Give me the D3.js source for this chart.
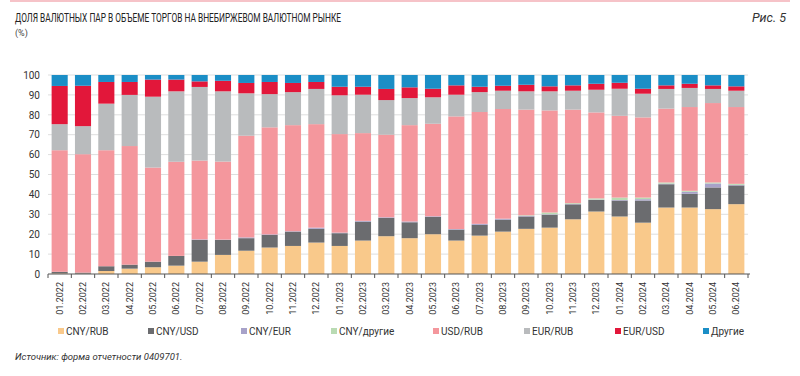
<!DOCTYPE html>
<html><head><meta charset="utf-8">
<script src="https://cdn.jsdelivr.net/npm/d3@7/dist/d3.min.js"></script>
<style>
body{margin:0;background:#fff;}
svg{display:block;}
.cond{font-family:"Liberation Sans Narrow","Roboto","DejaVu Sans Condensed",sans-serif;}
</style></head>
<body><svg id="chart" width="800" height="376"></svg>
<script>
const categories = ["01.2022","02.2022","03.2022","04.2022","05.2022","06.2022","07.2022","08.2022","09.2022","10.2022","11.2022","12.2022",
"01.2023","02.2023","03.2023","04.2023","05.2023","06.2023","07.2023","08.2023","09.2023","10.2023","11.2023","12.2023",
"01.2024","02.2024","03.2024","04.2024","05.2024","06.2024"];
const cnyRub   = [0.3,0.2,1.5,2.7,3.4,4.2,6.2,9.6,11.7,13.3,14.1,15.8,14.1,16.8,19,18,20,16.8,19.3,21.3,22.7,23.3,27.5,31.4,28.9,25.8,33.4,33.4,32.6,35.1];
const cnyUsd   = [0.8,0.5,2.4,2.0,2.8,4.9,10.9,7.5,6.3,6.3,7.2,6.9,6.4,9.5,9.2,8,8.7,5.5,5.4,6,6.2,6.4,7.5,5.8,8,11.1,11.7,6.9,10.9,9.4];
const cnyEur   = [0,0,0,0,0,0,0.3,0.2,0.4,0.3,0.2,0.6,0.3,0.4,0.3,0.4,0.3,0.3,0.5,0.5,0.3,0.3,0.2,0.2,0.3,0.7,0.3,1.0,2.0,0.3];
const cnyOther = [0,0,0,0,0,0,0,0,0,0,0,0,0,0,0,0,0,0,0,0,0.3,0.9,0.4,0.6,1.2,0.8,0.6,0.5,0.5,0.5];
const usdRub   = [61.1,59.5,58.3,59.6,47.3,47.3,39.6,39.2,51.1,53.8,53.3,52,49.5,44.1,41.5,48.4,46.5,56.6,56.2,55.1,53.1,51.3,47,43.2,41.1,40.3,37.1,42.1,39.9,38.6];
const eurRub   = [13.1,14.1,23.4,25.7,35.6,35.4,37,35.3,21.3,16.7,16.6,17.7,19.5,19.3,17.4,13.6,13.3,10.9,10,9.2,9.2,9.6,9.5,11.4,13.6,11.9,9.9,9.6,7.1,8.2];
const eurUsd   = [19.2,20.3,10.9,6.5,8.6,5.9,2.8,5.3,5.2,6.1,4.6,3.5,4.3,4,5.6,5.4,4.3,4.7,2.7,2.5,3.3,2.5,2.7,3,3,2.5,1.8,2.1,1.8,2.2];
const others   = [5.5,5.4,3.5,3.5,2.3,2.3,3.2,2.9,4.0,3.5,4.0,3.5,5.9,5.9,7,6.2,6.9,5.2,5.9,5.4,4.9,5.7,5.2,4.4,3.9,6.9,5.2,4.4,5.2,5.7];
const seriesNames = ["CNY/RUB","CNY/USD","CNY/EUR","CNY/другие","USD/RUB","EUR/RUB","EUR/USD","Другие"];
const seriesValues = [cnyRub,cnyUsd,cnyEur,cnyOther,usdRub,eurRub,eurUsd,others];
const yTicks = [0,10,20,30,40,50,60,70,80,90,100];
const colors = ["#f9c98b","#6b6c6f","#a7a2c9","#b9dbb3","#f4979d","#b9bbbd","#e2173a","#1b8ec6"];

const table = categories.map((c,i)=>{const o={cat:c}; seriesNames.forEach((s,j)=>o[s]=seriesValues[j][i]); return o;});
const svg = d3.select("#chart");

svg.append("rect").attr("x",10).attr("y",0).attr("width",780).attr("height",2).attr("fill","#f6c3c8");

svg.append("text").attr("class","cond").attr("x",15).attr("y",22).attr("font-size",12).attr("fill","#222")
  .attr("textLength",326).attr("lengthAdjust","spacingAndGlyphs")
  .text("ДОЛЯ ВАЛЮТНЫХ ПАР В ОБЪЕМЕ ТОРГОВ НА ВНЕБИРЖЕВОМ ВАЛЮТНОМ РЫНКЕ");
svg.append("text").attr("class","cond").attr("x",786).attr("y",22).attr("font-size",12.5).attr("font-style","italic")
  .attr("text-anchor","end").attr("fill","#333").text("Рис. 5");
svg.append("text").attr("class","cond").attr("x",15).attr("y",36).attr("font-size",9).attr("fill","#444").text("(%)");

const x = d3.scaleBand().domain(categories).range([48,748]).paddingInner(0.31).paddingOuter(0.155);
const y = d3.scaleLinear().domain([0,100]).range([274,75]);

const g = svg.append("g");
g.selectAll("line.grid").data(yTicks.filter(d=>d>0)).join("line")
  .attr("x1",48).attr("x2",748).attr("y1",d=>y(d)).attr("y2",d=>y(d))
  .attr("stroke","#dedede").attr("stroke-width",1);

const stack = d3.stack().keys(seriesNames)(table);
g.selectAll("g.layer").data(stack).join("g").attr("fill",(d,i)=>colors[i])
  .selectAll("rect").data(d=>d).join("rect")
  .attr("x",d=>x(d.data.cat)).attr("width",x.bandwidth())
  .attr("y",d=>y(d[1])).attr("height",d=>Math.max(0,y(d[0])-y(d[1])));

const ya = svg.append("g").attr("transform","translate(48,0)")
  .call(d3.axisLeft(y).tickValues(yTicks).tickSize(0).tickPadding(8));
ya.select(".domain").remove();
ya.selectAll("text").attr("font-family","Roboto, sans-serif").attr("font-size",10).attr("fill","#333");

const xa = svg.append("g").attr("transform","translate(0,274)");
xa.append("line").attr("x1",48).attr("x2",750).attr("stroke","#555").attr("stroke-width",1);
const step = x.step();
const bounds = d3.range(categories.length+1).map(i=>48+i*step);
xa.selectAll("line.tk").data(bounds).join("line").attr("x1",d=>d).attr("x2",d=>d).attr("y1",0).attr("y2",4)
  .attr("stroke","#555");
xa.selectAll("text").data(categories).join("text")
  .attr("transform",d=>`translate(${x(d)+x.bandwidth()/2+3},${8}) rotate(-90)`)
  .attr("text-anchor","end").attr("font-family","Roboto, sans-serif").attr("font-size",9).attr("fill","#333")
  .text(d=>d);

const legX = [58,148,241,331,433,524,615,703];
const lg = svg.append("g");
seriesNames.forEach((s,i)=>{
  lg.append("rect").attr("x",legX[i]).attr("y",328).attr("width",6).attr("height",6).attr("fill",colors[i]);
  lg.append("text").attr("class","cond").attr("x",legX[i]+8).attr("y",335).attr("font-size",10).attr("fill","#333").text(s);
});

svg.append("text").attr("class","cond").attr("x",15).attr("y",360).attr("font-size",9.5).attr("font-style","italic")
  .attr("fill","#333").text("Источник: форма отчетности 0409701.");
</script></body></html>
